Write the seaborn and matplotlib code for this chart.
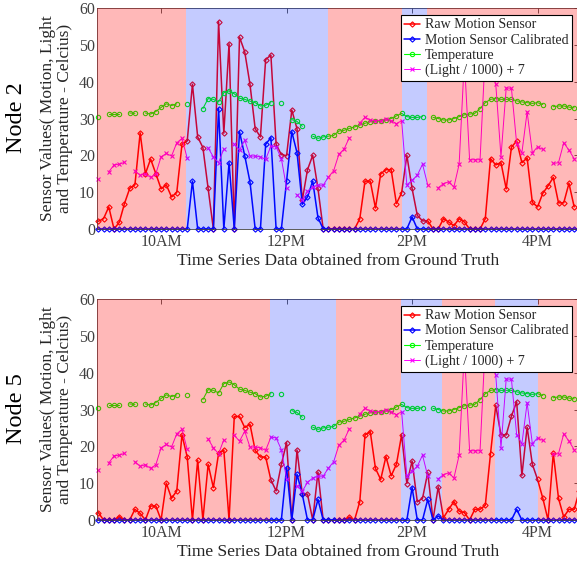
# Node 2 / Node 5 sensor traces with occupancy shading

import numpy as np
import pandas as pd
import matplotlib
matplotlib.use('Agg')
import matplotlib.pyplot as plt
import seaborn as sns
from matplotlib.lines import Line2D

nan = np.nan

# DATA

# samples every 5 minutes starting 9:00
start_hour = 9.0
step_min = 5
n_samples = 93

hour_ticks = [10, 12, 14, 16]
hour_labels = ['10AM', '12PM', '2PM', '4PM']

series_names = ['Raw Motion Sensor', 'Motion Sensor Calibrated',
                'Temperature', '(Light / 1000) + 7']

temperature = [
    30.5, nan, 31.1, 31.1, 31.1, nan, 31.5, 31.4, nan, 31.5,
    31.2, 31.9, 33.0, 34.0, 33.5, 34.0, nan, 34.0, nan, nan,
    32.7, 35.4, 35.2, 34.5, 37.0, 37.5, 36.7, 35.5, 35.2, 34.7,
    34.3, 33.4, 33.6, 34.3, nan, 34.3, nan, 29.7, 29.2, 27.9,
    nan, 25.2, 24.6, 25.0, 25.2, 25.4, 26.6, 26.8, 27.3, 27.7,
    28.2, 28.7, 29.1, 29.3, 29.3, 29.6, 30.0, 30.7, 31.4, 30.5,
    30.3, 30.3, 30.5, nan, 30.3, 30.0, 29.6, 29.6, 30.0, 30.5,
    31.0, 31.2, 31.4, 32.7, 34.3, 35.2, 35.4, 35.2, 35.2, 35.2,
    34.8, 34.5, 34.3, 34.1, 34.3, 33.8, nan, 33.2, 33.4, 33.4,
    33.1, 32.9, nan,
]

light = [
    13.7, nan, 15.5, 17.4, 17.6, 18.1, nan, 15.8, 14.6, 15.0,
    14.0, 15.0, 19.6, 20.5, 19.8, 23.4, 24.6, 19.2, nan, nan,
    nan, 22.0, 19.6, 18.0, 21.8, nan, 23.0, 21.4, 24.1, 19.8,
    19.8, 19.6, 18.9, 22.5, 22.3, 19.1, 11.2, nan, 9.3, 7.8,
    10.2, 11.4, 11.9, 11.9, 14.1, 15.8, 20.3, 21.7, 24.8, nan,
    28.8, 30.3, 29.6, 29.4, 29.4, 30.0, 29.4, 28.6, 29.4, 12.0,
    13.2, 14.6, 17.6, 11.9, nan, 11.2, 12.3, 12.8, 11.4, 17.6,
    46.0, 18.8, 18.8, 18.8, 48.0, 44.0, 39.4, 19.6, 38.3, 38.2,
    23.2, 20.7, 31.8, 20.7, 22.3, 21.6, nan, 17.8, 18.0, 23.4,
    21.4, 19.1, nan,
]

node2_raw = [
    2.1, 2.8, 6.0, 0, 1.8, 6.9, 11.0, 12.0, 26.1, 15.0,
    19.0, 15.0, 10.9, 12.0, 8.7, 9.9, 23.0, 23.9, 39.3, 25.0,
    22.1, 11.0, 0, 56.3, 26.0, 50.3, 0, 52.1, 48.1, 39.3,
    27.2, 25.0, 46.0, 47.2, 23.0, 20.2, 19.9, 32.3, 27.2, 7.8,
    16.1, 20.0, 11.0, 0, 0, 0, 0, 0, 0, 0,
    2.8, 13.0, 13.0, 5.7, 15.0, 16.1, 16.1, 6.9, 9.8, 20.0,
    11.0, 3.7, 2.2, 2.2, 0, 0, 2.8, 1.9, 0.9, 2.8,
    1.9, 0, 0, 0, 2.8, 19.1, 17.4, 18.0, 10.9, 22.2,
    23.9, 18.0, 19.3, 7.2, 6.0, 9.7, 11.7, 14.0, 7.1, 7.1,
    12.4, 6.0, nan,
]

node2_cal = [
    0, 0, 0, 0, 0, 0, 0, 0, 0, 0,
    0, 0, 0, 0, 0, 0, 0, 0, 13.0, 0,
    0, 0, 0, 32.7, 0, 18.0, 0, 26.4, 19.9, 12.8,
    0, 0, 23.0, 24.8, 0, 0, 13.0, 26.4, 20.7, 6.7,
    8.7, 13.0, 3.1, 0, 0, 0, 0, 0, 0, 0,
    0, 0, 0, 0, 0, 0, 0, 0, 0, 0,
    3.3, 0, 0, 0, 0, 0, 0, 0, 0, 0,
    0, 0, 0, 0, 0, 0, 0, 0, 0, 0,
    0, 0, 0, 0, 0, 0, 0, 0, 0, 0,
    0, 0, 0,
]

node5_raw = [
    2.0, 0, 0, 0, 0.9, 0, 0, 2.9, 1.8, 0,
    3.8, 3.8, 0, 10.0, 5.9, 7.9, 23.1, 17.1, 0, 16.2,
    0, 15.1, 8.8, 18.1, 19.0, 0, 28.1, 28.1, 25.1, 26.0,
    18.9, 17.1, 17.1, 10.9, 7.9, 15.1, 21.0, 0, 19.0, 7.1,
    7.0, 0, 13.0, 0, 0, 0, 0, 0, 0.8, 0,
    5.0, 23.1, 24.0, 14.0, 11.0, 17.2, 12.0, 15.1, 23.1, 9.9,
    16.0, 4.9, 5.9, 12.9, 0, 9.0, 0.6, 2.9, 5.0, 2.4,
    2.0, 0, 2.9, 2.9, 4.0, 18.0, 31.1, 23.1, 23.1, 28.2,
    32.1, 12.1, 25.2, 15.1, 11.0, 5.9, 0, 18.1, 5.9, 0.8,
    2.9, 2.9, 8.0,
]

node5_cal = [
    0, 0, 0, 0, 0, 0, 0, 0, 0, 0,
    0, 0, 0, 0, 0, 0, 0, 0, 0, 0,
    0, 0, 0, 0, 0, 0, 0, 0, 0, 0,
    0, 0, 0, 0, 0, 0, 14.2, 0, 12.4, 7.0,
    0, 0, 5.6, 0, 0, 0, 0, 0, 0, 0,
    0, 0, 0, 0, 0, 0, 0, 0, 0, 0,
    8.8, 0, 0, 5.6, 0, 1.1, 0, 0, 0, 0,
    0, 0, 0, 0, 0, 0, 0, 0, 0, 0,
    2.9, 0, 0, 0, 0, 0, 0, 0, 0, 0,
    0, 0, 0,
]

# ground truth segments (hours), alternating empty / occupied
node2_edges = [8.9, 10.40, 12.66, 13.84, 14.23, 16.9]
node5_edges = [8.9, 11.73, 12.78, 13.82, 14.48, 15.32, 16.00, 16.9]

hours = start_hour + np.arange(n_samples) * step_min / 60.0

# STYLE

sns.set_style('white')
plt.rcParams['font.family'] = ['Liberation Serif', 'DejaVu Serif']

line_styles = [
    dict(color='#ff0000', marker='D', ms=2.7, lw=1.1),
    dict(color='#0000ff', marker='D', ms=2.7, lw=1.1),
    dict(color='#00ff00', marker='o', ms=3.1, lw=0.8),
    dict(color='#ff00ff', marker='x', ms=2.8, lw=0.7),
]
span_colors = [('#ff0000', 0.28), ('#0022ff', 0.23)]


def draw_series(ax, values, style, z):
    df = pd.DataFrame({'hour': hours, 'value': values})
    df['segment'] = df['value'].isna().cumsum()
    df = df.dropna()
    sns.lineplot(
        data=df, x='hour', y='value', units='segment', estimator=None,
        color=style['color'], marker=style['marker'], ms=style['ms'],
        mec=style['color'], mfc='none', mew=0.8, lw=style['lw'],
        clip_on=False, zorder=z, legend=False, ax=ax
    )


def draw_panel(ax, raw, cal, edges, node_name, fig_y):
    for i, (vals, st) in enumerate(zip([raw, cal, temperature, light], line_styles)):
        draw_series(ax, vals, st, 2 + i * 0.01)

    for i in range(len(edges) - 1):
        c, a = span_colors[i % 2]
        ax.axvspan(edges[i], edges[i + 1], color=c, alpha=a, lw=0, zorder=3)

    ax.set_xlim(start_hour - 0.021, 16.66)
    ax.set_ylim(0, 60)
    ax.set_yticks(range(0, 61, 10))
    ax.set_xticks(hour_ticks)
    ax.set_xticklabels(hour_labels)

    ax.tick_params(direction='in', top=True, right=True, length=3.5, width=0.6,
                   labelsize=11.5, labelcolor='#404040', color='#404040', pad=3.5)
    ax.tick_params(axis='y', pad=1.5)
    for sp in ax.spines.values():
        sp.set_color('#404040')
        sp.set_linewidth(0.6)

    ax.set_xlabel('Time Series Data obtained from Ground Truth',
                  fontsize=12.5, color='#262626', labelpad=2)
    ax.set_ylabel('Sensor Values( Motion, Light\nand Temperature - Celcius)',
                  fontsize=12.5, color='#262626', labelpad=4, linespacing=1.15)

    handles = [Line2D([], [], color=st['color'], marker=st['marker'], ms=st['ms'],
                      mfc='none', mew=0.8, lw=st['lw'])
               for st in line_styles]
    leg = ax.legend(handles, series_names, loc='upper right', fontsize=10,
                    frameon=True, fancybox=False, framealpha=1, edgecolor='black',
                    borderaxespad=0.5, borderpad=0.25, labelspacing=0.15,
                    handlelength=1.15, handletextpad=0.35)
    leg.get_frame().set_linewidth(0.8)
    leg.set_zorder(5)

    fig.text(17 / 577, fig_y, node_name, rotation=90, fontsize=17.5,
             ha='center', va='center', color='black')


fig = plt.figure(figsize=(5.77, 5.62), dpi=100)

ax_top = fig.add_axes([97 / 577, 1 - 229 / 562, 482 / 577, 221 / 562])
ax_bot = fig.add_axes([97 / 577, 1 - 520 / 562, 482 / 577, 221 / 562])

draw_panel(ax_top, node2_raw, node2_cal, node2_edges, 'Node 2', 1 - 118 / 562)
draw_panel(ax_bot, node5_raw, node5_cal, node5_edges, 'Node 5', 1 - 409 / 562)

fig.savefig('out.png', dpi=100)
